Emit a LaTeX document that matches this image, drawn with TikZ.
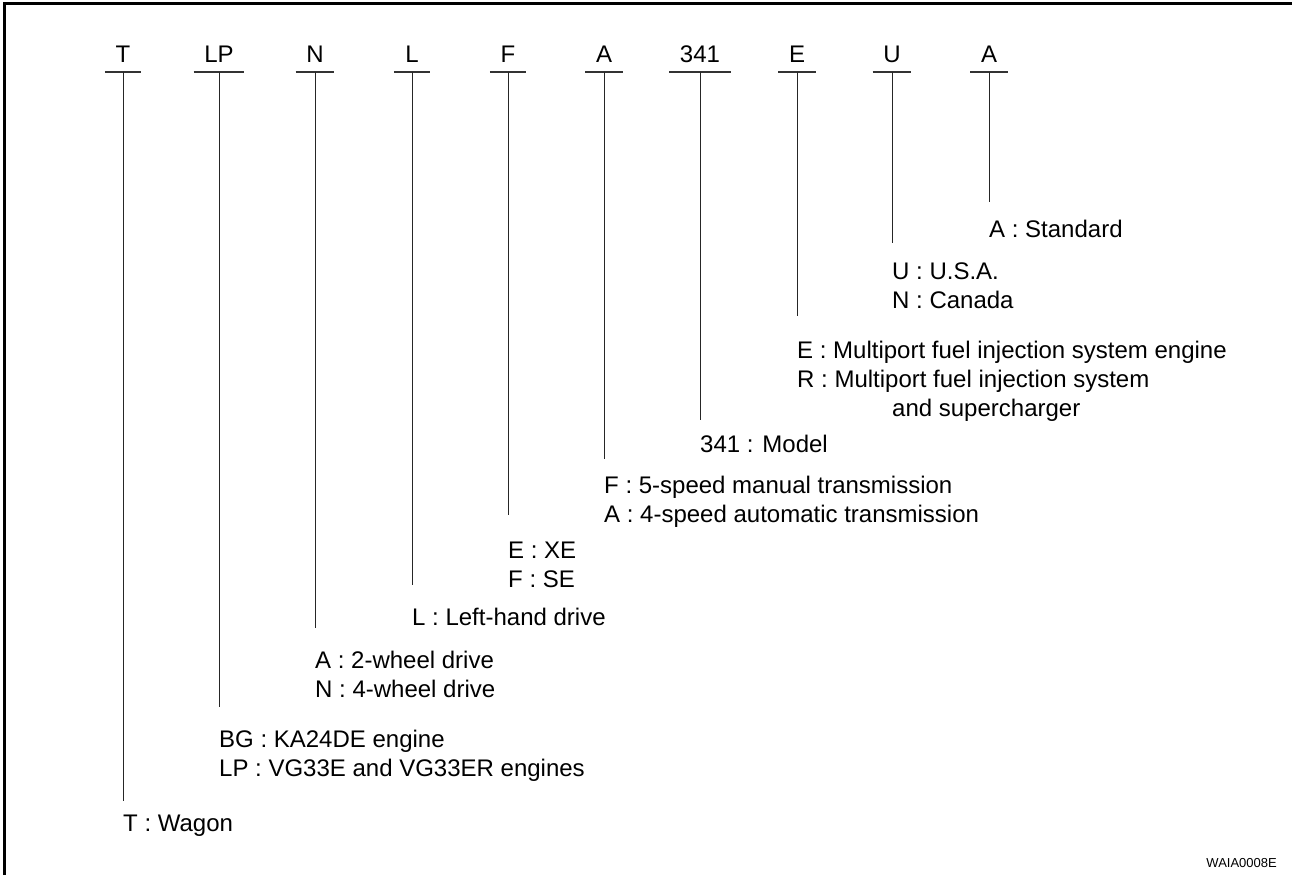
\documentclass[tikz,border=0pt]{standalone}
\usepackage{fontspec}
\setmainfont{Liberation Sans}
\usetikzlibrary{positioning}

\tikzset{
  codebox/.style={anchor=base, inner xsep=10.5pt, inner ysep=8.5pt, text depth=0pt, minimum width=36pt},
  codebar/.style={line width=1.6pt, draw=black!80},
  lead/.style={line width=0.9pt, draw=black!85},
  meaning/.style={anchor=base west, inner sep=0pt, align=left}
}

\begin{document}
\begin{tikzpicture}[x=1pt, y=-1pt, font=\fontsize{24}{29}\selectfont]
  \useasboundingbox (0,0) rectangle (1292,875);

  % frame on the left and top edge only
  \draw[line width=3pt] (4.5,875) -- (4.5,3.5) -- (1292,3.5);

  % each code letter, its bar, its lead and what it means
  % (\ylab = baseline of the first line, \nl = lines below it)
  \foreach \n/\x/\code/\yend/\ylab/\nl/\txt in {
      t/123/T/801/831/0/{T : Wagon},
      lp/219/LP/707/747/1/{BG : KA24DE engine\\LP : VG33E and VG33ER engines},
      n/315/N/628/668/1/{A : 2-wheel drive\\N : 4-wheel drive},
      l/412/L/585/625/0/{L : Left-hand drive},
      f/508/F/515/558/1/{E : XE\\F : SE},
      a/604/A/459/493/1/{F : 5-speed manual transmission\\A : 4-speed automatic transmission},
      m/700/341/420/452/0/{341 : Model},
      e/797/E/316/358/2/{E : Multiport fuel injection system engine\\R : Multiport fuel injection system\\\hspace*{95pt}and supercharger},
      u/892/U/243/279/1/{U : U.S.A.\\N : Canada},
      s/989/A/202/237/0/{A : Standard}
  }{
    \node[codebox] (code\n) at (\x,63) {\code};
    \draw[codebar] (code\n.south west) -- (code\n.south east);
    \coordinate (end\n) at (\x,\yend);
    \draw[lead] (code\n.south) -- (end\n);
    \node[meaning] (mean\n) at (\x,{\ylab+29*\nl}) {\txt};
  }

  % drawing number
  \node[anchor=base east, inner sep=0pt, font=\fontsize{13}{15}\selectfont] (ref) at (1277,867) {WAIA0008E};
\end{tikzpicture}
\end{document}
